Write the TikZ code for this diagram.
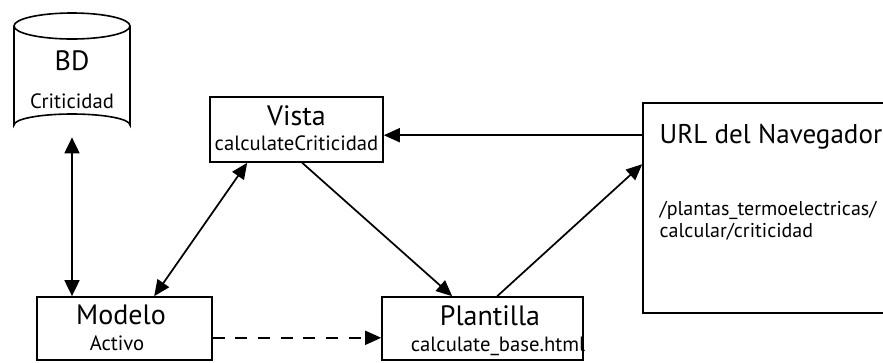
\documentclass[tikz,border=0pt]{standalone}
\usepackage{fontspec}
\setmainfont{PT Sans}
\usetikzlibrary{calc,arrows.meta}
\begin{document}
\begin{tikzpicture}[x=0.75pt,y=-0.75pt,
  box/.style={draw,line width=1.2pt,rectangle,inner sep=0pt},
  ttl/.style={anchor=base,font=\fontsize{21}{23}\selectfont},
  sub/.style={anchor=base,font=\fontsize{15.5}{17}\selectfont},
  link/.style={line width=1.3pt,-{Triangle[length=12pt,width=10.5pt]}},
  both/.style={line width=1.3pt,{Triangle[length=12pt,width=10.5pt]}-{Triangle[length=12pt,width=10.5pt]}},
  thick both/.style={line width=2pt,{Triangle[length=12pt,width=11pt]}-{Triangle[length=12pt,width=11pt]}}]
\clip (0,0) rectangle (883,362);
\fill[white] (0,0) rectangle (883,362);

% database cylinder
\draw[line width=1.2pt] (14,26) -- (14,125) arc[start angle=180,end angle=360,x radius=58,y radius=11] -- (130,26);
\draw[line width=1.2pt] (72,26) ellipse[x radius=58,y radius=13];
\node (bd) [minimum width=87pt,minimum height=93pt,inner sep=0pt] at (72,75) {};
\node (bdt) [ttl] at (72,70) {BD};
\node (bds) [sub] at (72,108) {Criticidad};

% boxes
\node (vista) [box,minimum width=129.75pt,minimum height=48.75pt] at (296.5,129.5) {};
\node (vistat) [ttl] at (296.5,125) {Vista};
\node (vistas) [sub] at (296.5,150) {calculateCriticidad};

\node (modelo) [box,minimum width=131.25pt,minimum height=47.25pt] at (124.5,328.5) {};
\node (modelot) [ttl] at (121,324) {Modelo};
\node (modelos) [sub] at (117,350) {Activo};

\node (plant) [box,minimum width=150.75pt,minimum height=47.25pt] at (482.5,328.5) {};
\node (plantt) [ttl] at (490,325) {Plantilla};
\node (plants) [sub] at (498,351) {calculate\_base.html};

\node (url) [box,minimum width=200.25pt,minimum height=157.5pt] at (776.5,208) {};
\node (urlt) [ttl,anchor=base west,font=\fontsize{20.3}{22}\selectfont] at (655,143) {URL del Navegador};
\node (urls1) [sub,anchor=base west,font=\fontsize{15}{17}\selectfont] at (655,215) {/plantas\_termoelectricas/};
\node (urls2) [sub,anchor=base west,font=\fontsize{15}{17}\selectfont] at (655,237) {calcular/criticidad};

% connectors
\draw[thick both] (bd.south) -- (bd.south |- modelo.north);
\draw[both] ($(modelo.north west)+(118,0)$) -- ($(vista.south west)+(38,0)$);
\draw[link] ($(vista.south west)+(93,0)$) -- ($(plant.north west)+(71,0)$);
\draw[link] ($(plant.north west)+(116,0)$) -- ($(url.north west)+(0,62)$);
\draw[link] ($(url.north west)+(0,33)$) -- ($(vista.north east)+(0,39)$);
\draw[link,dash pattern=on 9pt off 8pt] ($(modelo.south east)+(0,-23)$) -- ($(plant.south west)+(0,-23)$);
\end{tikzpicture}
\end{document}
